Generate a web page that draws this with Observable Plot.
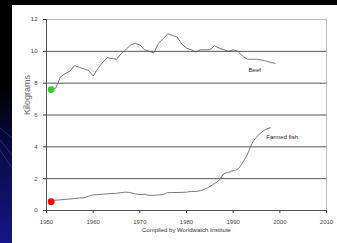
<!DOCTYPE html>
<html><head><meta charset="utf-8">
<script src="https://cdn.jsdelivr.net/npm/d3@7"></script>
<script src="https://cdn.jsdelivr.net/npm/@observablehq/plot@0.6"></script>
<style>
html,body{margin:0;padding:0;background:#000;}
#slide{position:relative;width:337px;height:243px;overflow:hidden;background:#000;}
#strip{position:absolute;left:0;top:0;width:12px;height:243px;
 background:linear-gradient(to bottom,#000 0%,#000 35%,#0a0a40 60%,#15158a 100%);}
#deco{position:absolute;left:0;top:0;}
#chart{position:absolute;left:12px;top:5px;width:325px;height:238px;background:#fff;}
</style></head>
<body><div id="slide"><div id="strip"></div>
<svg id="deco" width="12" height="243"><g stroke="#3a3ad0" stroke-width="0.8" opacity="0.8">
<line x1="0" y1="128" x2="12" y2="138"/><line x1="0" y1="140" x2="12" y2="155"/><line x1="0" y1="150" x2="12" y2="168"/></g></svg>
<div id="chart"></div></div>
<script>
const beefYears = [1951,1952,1953,1954,1955,1956,1957,1958,1959,1960,1961,1962,1963,1964,1965,1966,1967,1968,1969,1970,1971,1972,1973,1974,1975,1976,1977,1978,1979,1980,1981,1982,1983,1984,1985,1986,1987,1988,1989,1990,1991,1992,1993,1994,1995,1996,1997,1998,1999];
const beefValues = [7.6,7.7,8.4,8.6,8.75,9.1,9.0,8.9,8.8,8.45,8.9,9.3,9.6,9.55,9.5,9.85,10.1,10.4,10.5,10.4,10.1,10.0,9.9,10.5,10.8,11.1,11.0,10.9,10.45,10.2,10.1,9.95,10.1,10.1,10.1,10.35,10.2,10.1,10.0,10.1,10.0,9.7,9.5,9.5,9.5,9.45,9.4,9.3,9.25];
const fishYears = [1951,1952,1953,1954,1955,1956,1957,1958,1959,1960,1961,1962,1963,1964,1965,1966,1967,1968,1969,1970,1971,1972,1973,1974,1975,1976,1977,1978,1979,1980,1981,1982,1983,1984,1985,1986,1987,1988,1989,1990,1991,1992,1993,1994,1995,1996,1997,1998];
const fishValues = [0.62,0.65,0.67,0.7,0.72,0.75,0.78,0.8,0.9,0.98,1.0,1.02,1.05,1.07,1.08,1.12,1.15,1.12,1.05,1.0,1.02,0.95,0.95,0.98,1.0,1.12,1.13,1.13,1.14,1.15,1.2,1.2,1.25,1.35,1.5,1.7,1.9,2.3,2.4,2.5,2.6,3.0,3.5,4.2,4.6,4.9,5.1,5.2];
const startYear = [1951];
const startBeef = [7.6];
const startFish = [0.55];
const seriesLabels = ["Beef","Farmed fish"];
const labelYears = [1993.3,1997.1];
const labelValues = [8.8,4.6];
const xTicks = [1950,1960,1970,1980,1990,2000,2010];
const yTicks = [0,2,4,6,8,10,12];
const yLabel = "Kilograms";
const caption = "Compiled by Worldwatch Institute";

const beef = beefYears.map((y,i)=>({year:y,value:beefValues[i]}));
const fish = fishYears.map((y,i)=>({year:y,value:fishValues[i]}));
const labels = seriesLabels.map((t,i)=>({t,year:labelYears[i],value:labelValues[i]}));

const chart = Plot.plot({
  width:325, height:238,
  marginLeft:34, marginRight:11, marginTop:14, marginBottom:33,
  style:{fontFamily:"Liberation Sans, Arial, sans-serif", fontSize:"6px", color:"#333", background:"#fff"},
  x:{domain:[1950,2010], ticks:xTicks, tickFormat:d=>String(d), label:null},
  y:{domain:[0,12], ticks:yTicks, label:null},
  marks:[
    Plot.ruleY([2,4,6,8,10], {stroke:"#555", strokeWidth:1}),
    Plot.ruleY([12], {stroke:"#bbb", strokeWidth:1}),
    Plot.ruleX([2010], {stroke:"#bbb", strokeWidth:1}),
    Plot.axisX({ticks:xTicks, tickSize:3, tickFormat:d=>String(d), label:null, fontSize:6, fill:"#444"}),
    Plot.axisY({ticks:yTicks, tickSize:3, label:null, fontSize:6, fill:"#444"}),
    Plot.ruleX([1950], {stroke:"#555"}),
    Plot.ruleY([0], {stroke:"#555"}),
    Plot.line(beef, {x:"year", y:"value", stroke:"#555", strokeWidth:0.8}),
    Plot.line(fish, {x:"year", y:"value", stroke:"#555", strokeWidth:0.8, curve:"monotone-x"}),
    Plot.dot(startYear.map((y,i)=>({year:y,value:startBeef[i]})), {x:"year", y:"value", r:3.4, fill:"#33cc33", stroke:null}),
    Plot.dot(startYear.map((y,i)=>({year:y,value:startFish[i]})), {x:"year", y:"value", r:3.4, fill:"#ff0000", stroke:null}),
    Plot.text(labels, {x:"year", y:"value", text:"t", textAnchor:"start", fontSize:6, fill:"#222"}),
    Plot.text([yLabel], {frameAnchor:"left", dx:-19, rotate:-90, fontSize:9, fill:"#666"}),
    Plot.text([caption], {frameAnchor:"bottom", dy:21, fontSize:6, fill:"#333"})
  ]
});
document.getElementById("chart").appendChild(chart);
</script></body></html>
